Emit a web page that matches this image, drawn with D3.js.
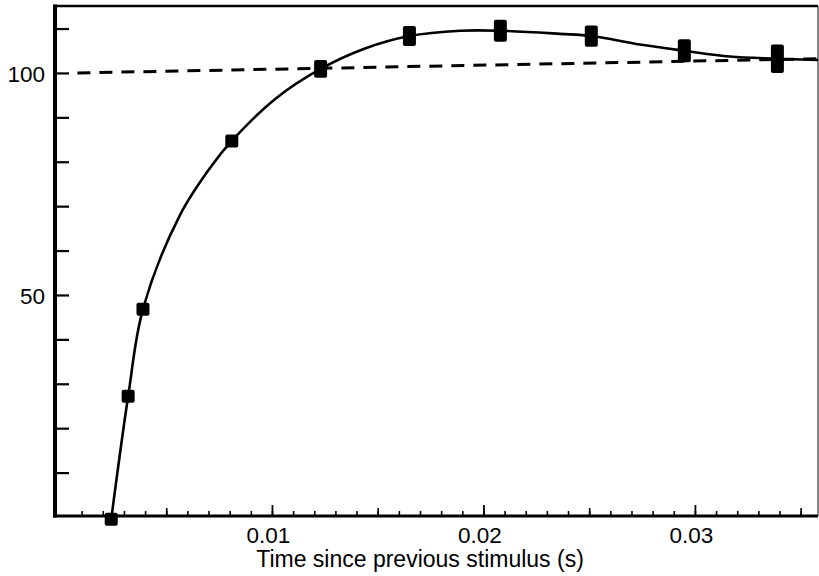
<!DOCTYPE html>
<html>
<head>
<meta charset="utf-8">
<script src="https://cdn.jsdelivr.net/npm/d3@7"></script>
<style>
    body { margin: 0; background: #fff; }
    text { font-family: "Liberation Sans", Arial, sans-serif; fill: #000; }
</style>
</head>
<body>
<div id="chart"></div>
<script>
// Measured points (time in s, response as % of control)
var pointTimes  = [0.0024, 0.0032, 0.0039, 0.0081, 0.0123, 0.0165, 0.0208, 0.0251, 0.0295, 0.0339];
var pointValues = [-0.5, 27.2, 46.8, 84.7, 100.9, 108.3, 109.5, 108.3, 105.0, 103.2];
var pointErrors = [0, 0, 0, 0, 2.0, 2.25, 2.5, 2.4, 2.6, 3.2];

// Smooth curve
var curveTimes  = [0.0024, 0.0032, 0.0039, 0.00565, 0.00721, 0.0081, 0.01014, 0.0123, 0.0144, 0.0165, 0.01889, 0.02083, 0.02362, 0.02513, 0.0274, 0.0295, 0.03165, 0.03386, 0.03582];
var curveValues = [-0.5, 27.2, 46.8, 68.0, 79.5, 84.7, 94.1, 100.9, 105.5, 108.3, 109.5, 109.5, 108.8, 108.3, 106.4, 105.0, 103.7, 103.2, 102.9];

// Dashed reference line
var dashTimes  = [0.0008, 0.03582];
var dashValues = [100, 103.2];

// Tick positions
var xMajorTicks = [0.01, 0.02, 0.03];
var xMidTicks   = [0.005, 0.015, 0.025, 0.035];
var xMinorTicks = d3.range(1, 36).map(function (i) { return i / 1000; });
var yTicks      = [10, 20, 30, 40, 50, 60, 70, 80, 90, 100, 110];
var yLabelled   = [50, 100];
var xTitle = "Time since previous stimulus (s)";

var W = 819, H = 576;
var plotLeft = 57, plotRight = 818, plotTop = 5, plotBottom = 517;

var svg = d3.select("#chart").append("svg").attr("width", W).attr("height", H);

var x = d3.scaleLinear().domain([-0.000165, 0.03582]).range([plotLeft, plotRight]);
var y = d3.scaleLinear().domain([0, 115.3]).range([plotBottom, plotTop]);

// Frame
svg.append("line").attr("x1", 55).attr("x2", 55).attr("y1", 4.5).attr("y2", 517.5)
    .attr("stroke", "#000").attr("stroke-width", 4);
svg.append("line").attr("x1", 53).attr("x2", plotRight).attr("y1", 516).attr("y2", 516)
    .attr("stroke", "#000").attr("stroke-width", 3.2);
svg.append("line").attr("x1", 53).attr("x2", plotRight).attr("y1", 6).attr("y2", 6)
    .attr("stroke", "#000").attr("stroke-width", 2.5);
svg.append("line").attr("x1", 818).attr("x2", 818).attr("y1", 6).attr("y2", 516)
    .attr("stroke", "#333").attr("stroke-width", 1.2);

// Y axis, ticks pointing inwards
var yAxis = d3.axisLeft(y).tickValues(yTicks).tickSize(-12).tickPadding(12)
    .tickFormat(function (d) { return yLabelled.indexOf(d) >= 0 ? d : ""; });
var gy = svg.append("g").attr("transform", "translate(57,0)").call(yAxis);
gy.select(".domain").remove();
gy.selectAll("line").attr("stroke-width", 2.2);
gy.selectAll("text").style("font-size", "22.5px").attr("dy", "0.36em");

// X axis: three tick levels
function xTicks(values, size, width) {
    var g = svg.append("g").attr("transform", "translate(0,515)")
        .call(d3.axisBottom(x).tickValues(values).tickSize(-size).tickFormat(""));
    g.select(".domain").remove();
    g.selectAll("line").attr("stroke-width", width);
    return g;
}
xTicks(xMinorTicks, 4, 1.6);
xTicks(xMidTicks, 7, 1.6);
var gx = svg.append("g").attr("transform", "translate(0,516)")
    .call(d3.axisBottom(x).tickValues(xMajorTicks).tickSize(-11).tickPadding(11)
        .tickFormat(d3.format(".2f")));
gx.select(".domain").remove();
gx.selectAll("line").attr("stroke-width", 1.8);
gx.selectAll("text").style("font-size", "22.5px").attr("dx", "-4");

svg.append("text").attr("x", 420).attr("y", 567).attr("text-anchor", "middle")
    .style("font-size", "23px").text(xTitle);

// Dashed line
var dashData = dashTimes.map(function (t, i) { return [t, dashValues[i]]; });
svg.append("path").datum(dashData)
    .attr("d", d3.line().x(function (d) { return x(d[0]); }).y(function (d) { return y(d[1]); }))
    .attr("fill", "none").attr("stroke", "#000").attr("stroke-width", 3)
    .attr("stroke-dasharray", "13,9");

// Fitted curve
var curveData = curveTimes.map(function (t, i) { return [t, curveValues[i]]; });
svg.append("path").datum(curveData)
    .attr("d", d3.line().x(function (d) { return x(d[0]); }).y(function (d) { return y(d[1]); })
        .curve(d3.curveCatmullRom.alpha(0.5)))
    .attr("fill", "none").attr("stroke", "#000").attr("stroke-width", 2.6);

// Markers (square, stretched by the error bar)
var pts = pointTimes.map(function (t, i) { return {t: t, v: pointValues[i], e: pointErrors[i]}; });
svg.selectAll("rect.pt").data(pts).enter().append("rect").attr("class", "pt")
    .attr("width", 13)
    .attr("height", function (d) { return Math.max(13, y(d.v - d.e) - y(d.v + d.e)); })
    .attr("x", function (d) { return x(d.t) - 6.5; })
    .attr("y", function (d) { return y(d.v) - Math.max(13, y(d.v - d.e) - y(d.v + d.e)) / 2; })
    .attr("rx", 2).attr("fill", "#000");
</script>
</body>
</html>
